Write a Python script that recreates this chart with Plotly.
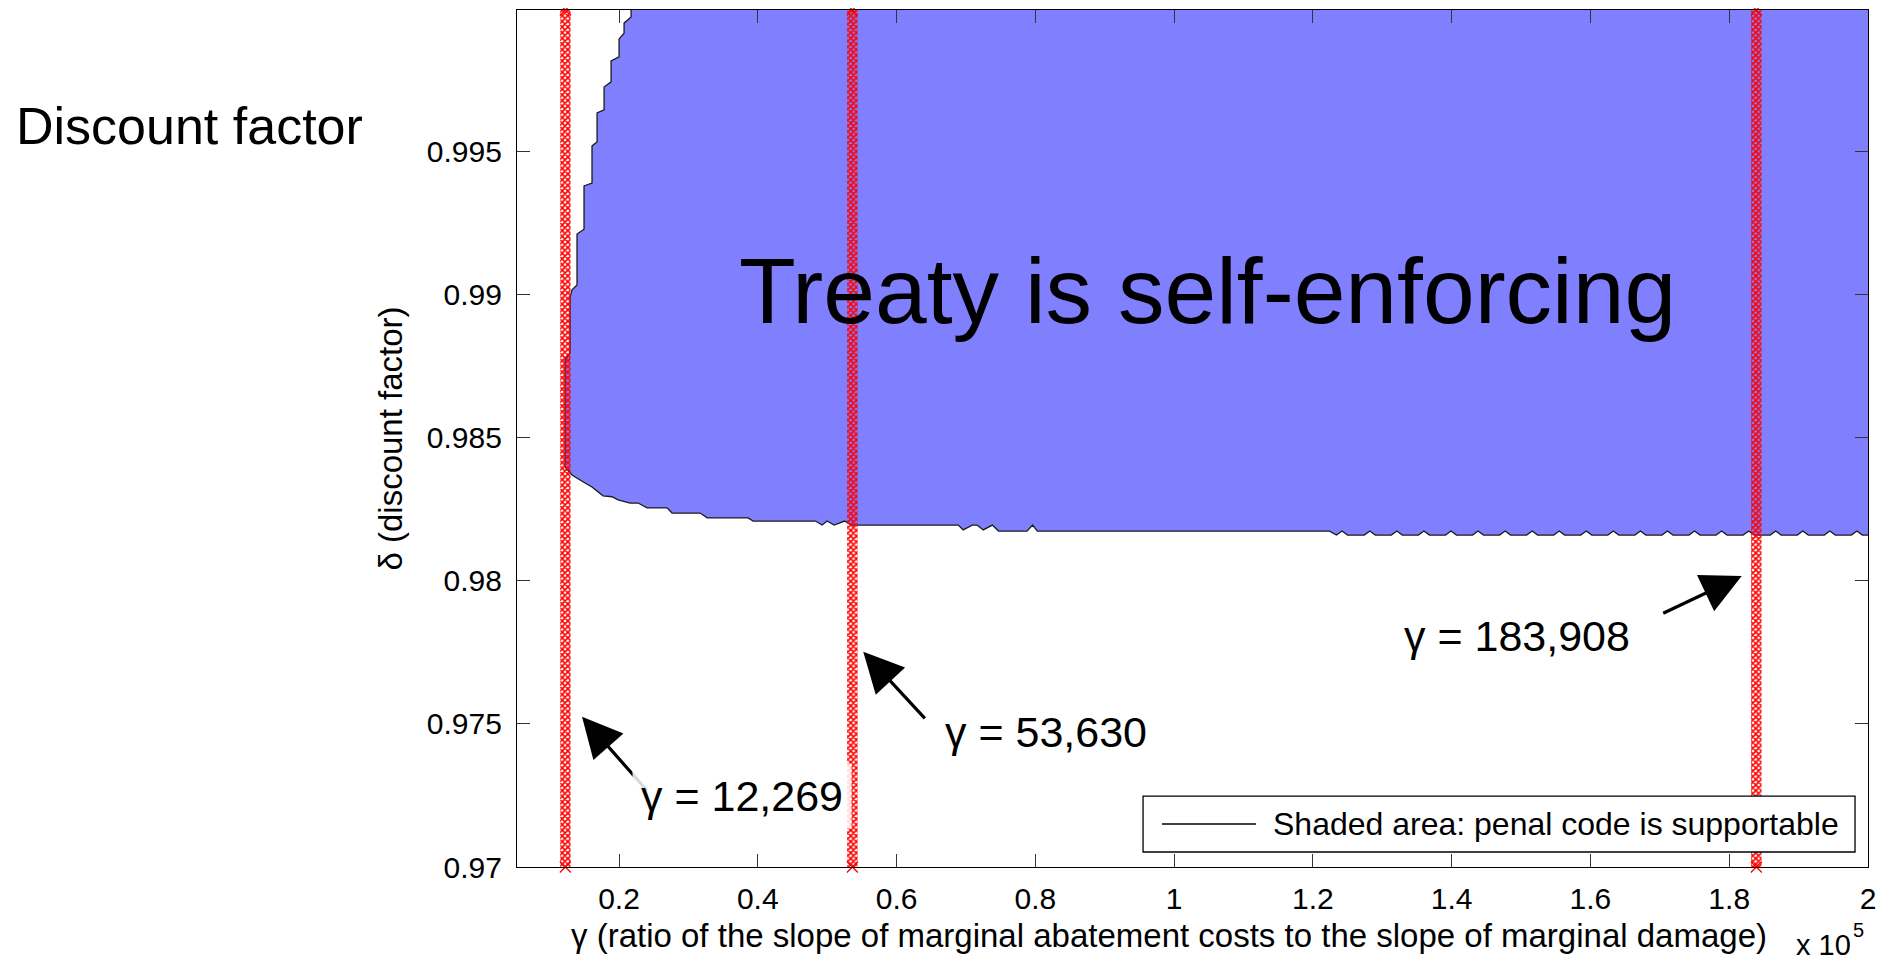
import plotly.graph_objects as go

# ---------------- data ----------------
# boundary of the region where the penal code is supportable (gamma in units of 1e5, delta)
left_x = [0.2174, 0.2174, 0.2073, 0.2073, 0.2001, 0.2001, 0.1886, 0.1886, 0.1785, 0.1785,
          0.1684, 0.1684, 0.1611, 0.1611, 0.1496, 0.1496, 0.1395, 0.1395, 0.1323, 0.1294,
          0.1294, 0.1222, 0.1222]
left_y = [1.0010, 0.99971, 0.99949, 0.99914, 0.99894, 0.99831, 0.99817, 0.99744, 0.99726, 0.99646,
          0.99635, 0.99534, 0.99520, 0.99390, 0.99380, 0.99229, 0.99212, 0.99034, 0.99017, 0.98990,
          0.98796, 0.98772, 0.98398]
lower_x = [0.1323, 0.1510, 0.1611, 0.1770, 0.1900, 0.1986, 0.2160, 0.2275, 0.2405, 0.2693,
           0.2765, 0.3170, 0.3270, 0.3860, 0.3933, 0.4830, 0.4928, 0.5000, 0.5100, 0.5250,
           0.5350, 0.6890, 0.6960, 0.7090, 0.7160, 0.7250, 0.7380, 0.7470, 0.7880, 0.7960,
           0.8030, 1.2240]
lower_y = [0.98370, 0.98342, 0.98328, 0.98297, 0.98294, 0.98283, 0.98272, 0.98272, 0.98255, 0.98255,
           0.98237, 0.98237, 0.98220, 0.98220, 0.98209, 0.98209, 0.98195, 0.98209, 0.98195, 0.98209,
           0.98195, 0.98195, 0.98178, 0.98195, 0.98195, 0.98178, 0.98195, 0.98174, 0.98174, 0.98195,
           0.98174, 0.98174]
wavy_x = [1.234, 1.242, 1.250, 1.274, 1.282, 1.290, 1.313, 1.321, 1.329, 1.352, 1.360, 1.368,
          1.391, 1.399, 1.407, 1.430, 1.438, 1.446, 1.469, 1.477, 1.485, 1.508, 1.516, 1.524,
          1.547, 1.555, 1.563, 1.586, 1.594, 1.602, 1.625, 1.633, 1.641, 1.664, 1.672, 1.680,
          1.703, 1.711, 1.719, 1.742, 1.750, 1.758, 1.781, 1.789, 1.797, 1.820, 1.828, 1.836,
          1.859, 1.867, 1.875, 1.898, 1.906, 1.914, 1.937, 1.945, 1.953, 1.976, 1.984, 1.992,
          2.050]
wavy_y = [0.98160, 0.98174, 0.98160, 0.98160, 0.98174, 0.98160, 0.98160, 0.98174, 0.98160,
          0.98160, 0.98174, 0.98160, 0.98160, 0.98174, 0.98160, 0.98160, 0.98174, 0.98160,
          0.98160, 0.98174, 0.98160, 0.98160, 0.98174, 0.98160, 0.98160, 0.98174, 0.98160,
          0.98160, 0.98174, 0.98160, 0.98160, 0.98174, 0.98160, 0.98160, 0.98174, 0.98160,
          0.98160, 0.98174, 0.98160, 0.98160, 0.98174, 0.98160, 0.98160, 0.98174, 0.98160,
          0.98160, 0.98174, 0.98160, 0.98160, 0.98174, 0.98160, 0.98160, 0.98174, 0.98160,
          0.98160, 0.98174, 0.98160, 0.98160, 0.98174, 0.98160, 0.98160]
closing_x = [2.050, 0.2174]
closing_y = [1.0010, 1.0010]

gamma_marks = [12269, 53630, 183908]
gamma_labels = ["γ = 12,269", "γ = 53,630", "γ = 183,908"]

x_ticks = [0.2, 0.4, 0.6, 0.8, 1.0, 1.2, 1.4, 1.6, 1.8, 2.0]
x_ticktext = ["0.2", "0.4", "0.6", "0.8", "1", "1.2", "1.4", "1.6", "1.8", "2"]
y_ticks = [0.97, 0.975, 0.98, 0.985, 0.99, 0.995]
y_ticktext = ["0.97", "0.975", "0.98", "0.985", "0.99", "0.995"]

X_RANGE = [0.053, 2.0]
Y_RANGE = [0.97, 0.99995]

FONT = "Liberation Sans, Arial, sans-serif"

# ---------------- figure ----------------
fig = go.Figure()

region_x = left_x + lower_x + wavy_x + closing_x
region_y = left_y + lower_y + wavy_y + closing_y
fig.add_trace(go.Scatter(
    x=region_x, y=region_y, mode="lines", fill="toself",
    fillcolor="#8080FF", line=dict(color="#1a1a1a", width=1.3),
    hoverinfo="skip", showlegend=False))

half_w = 0.0075
for g in gamma_marks:
    gx = g / 1e5
    fig.add_trace(go.Scatter(
        x=[gx - half_w, gx + half_w, gx + half_w, gx - half_w, gx - half_w],
        y=[Y_RANGE[0], Y_RANGE[0], Y_RANGE[1], Y_RANGE[1], Y_RANGE[0]],
        mode="lines", fill="toself", fillcolor="rgba(0,0,0,0)",
        fillpattern=dict(shape="x", fgcolor="#ff0000", bgcolor="rgba(0,0,0,0)",
                         size=4, solidity=0.65, fillmode="replace"),
        line=dict(width=0, color="rgba(0,0,0,0)"),
        hoverinfo="skip", showlegend=False))
    fig.add_trace(go.Scatter(
        x=[gx, gx], y=[Y_RANGE[1], Y_RANGE[0]], mode="markers",
        marker=dict(symbol="x-thin", size=11, line=dict(color="#ff0000", width=1.3)),
        cliponaxis=False, hoverinfo="skip", showlegend=False))

axis_common = dict(showline=True, linecolor="black", linewidth=1.3, mirror="ticks",
                   ticks="inside", ticklen=13, tickwidth=1, tickcolor="#333333",
                   showgrid=False, zeroline=False,
                   tickfont=dict(family=FONT, size=30, color="black"))

# the page body adds an 8px offset; size and margins compensate for it
fig.update_layout(
    width=1886, height=956,
    margin=dict(l=509, r=26, t=2, b=97),
    paper_bgcolor="white", plot_bgcolor="white",
    showlegend=False,
    font=dict(family=FONT, color="black"),
    xaxis=dict(range=X_RANGE, tickvals=x_ticks, ticktext=x_ticktext,
               ticklabelstandoff=5, **axis_common),
    yaxis=dict(range=Y_RANGE, tickvals=y_ticks, ticktext=y_ticktext,
               ticklabelstandoff=8,
               title=dict(text="δ (discount factor)", font=dict(family=FONT, size=33), standoff=14),
               **axis_common),
)

# x axis title (placed as in the original, slightly left of centre)
fig.add_annotation(x=0.4826, y=-0.0805, xref="paper", yref="paper", xanchor="center",
                   yanchor="middle", showarrow=False,
                   text="γ (ratio of the slope of marginal abatement costs to the slope of marginal damage)",
                   font=dict(family=FONT, size=33, color="black"))

# big label
fig.add_annotation(x=1.048, y=0.99013, xref="x", yref="y", text="Treaty is self-enforcing",
                   showarrow=False, font=dict(family=FONT, size=93, color="black"))

# gamma annotations: arrows (tip at data point, tail offset in pixels) and labels
arrow_tips_y = [0.97525, 0.97752, 0.98017]
arrow_tips_x = [0.1467, 0.552, 1.818]
arrow_ax = [66, 63, -80]
arrow_ay = [75, 68, 38]
label_x = [0.3774, 0.8158, 1.4935]
label_y = [0.97249, 0.97472, 0.97808]
label_bg = ["rgba(255,255,255,0.85)", "rgba(0,0,0,0)", "rgba(0,0,0,0)"]

for i in range(3):
    fig.add_annotation(x=arrow_tips_x[i], y=arrow_tips_y[i], xref="x", yref="y",
                       ax=arrow_ax[i], ay=arrow_ay[i], text="", showarrow=True,
                       arrowhead=2, arrowsize=2.5, arrowwidth=3.2, arrowcolor="black",
                       standoff=0)
for i in range(3):
    fig.add_annotation(x=label_x[i], y=label_y[i], xref="x", yref="y",
                       text=gamma_labels[i], showarrow=False,
                       bgcolor=label_bg[i], borderpad=8,
                       font=dict(family=FONT, size=43, color="black"))

# exponent label "x 10^5"
fig.add_annotation(x=0.9452, y=-0.091, xref="paper", yref="paper", xanchor="left",
                   yanchor="middle", text="x 10", showarrow=False,
                   font=dict(family=FONT, size=29, color="black"))
fig.add_annotation(x=0.9874, y=-0.073, xref="paper", yref="paper", xanchor="left",
                   yanchor="middle", text="5", showarrow=False,
                   font=dict(family=FONT, size=20, color="black"))

# side title
fig.add_annotation(x=-0.372, y=0.8646, xref="paper", yref="paper", xanchor="left",
                   yanchor="middle", text="Discount factor", showarrow=False,
                   font=dict(family=FONT, size=52, color="black"))

# legend drawn as a box
fig.add_shape(type="rect", xref="paper", yref="paper", x0=0.4634, x1=0.9904, y0=0.0175, y1=0.0828,
              line=dict(color="black", width=1.3), fillcolor="white", layer="above")
fig.add_shape(type="line", xref="paper", yref="paper", x0=0.4774, x1=0.547, y0=0.0502, y1=0.0502,
              line=dict(color="black", width=1.5), layer="above")
fig.add_annotation(x=0.5581, y=0.0502, xref="paper", yref="paper", xanchor="left", yanchor="middle",
                   text="Shaded area: penal code is supportable", showarrow=False,
                   font=dict(family=FONT, size=32, color="black"))

fig.write_html("out.html")
